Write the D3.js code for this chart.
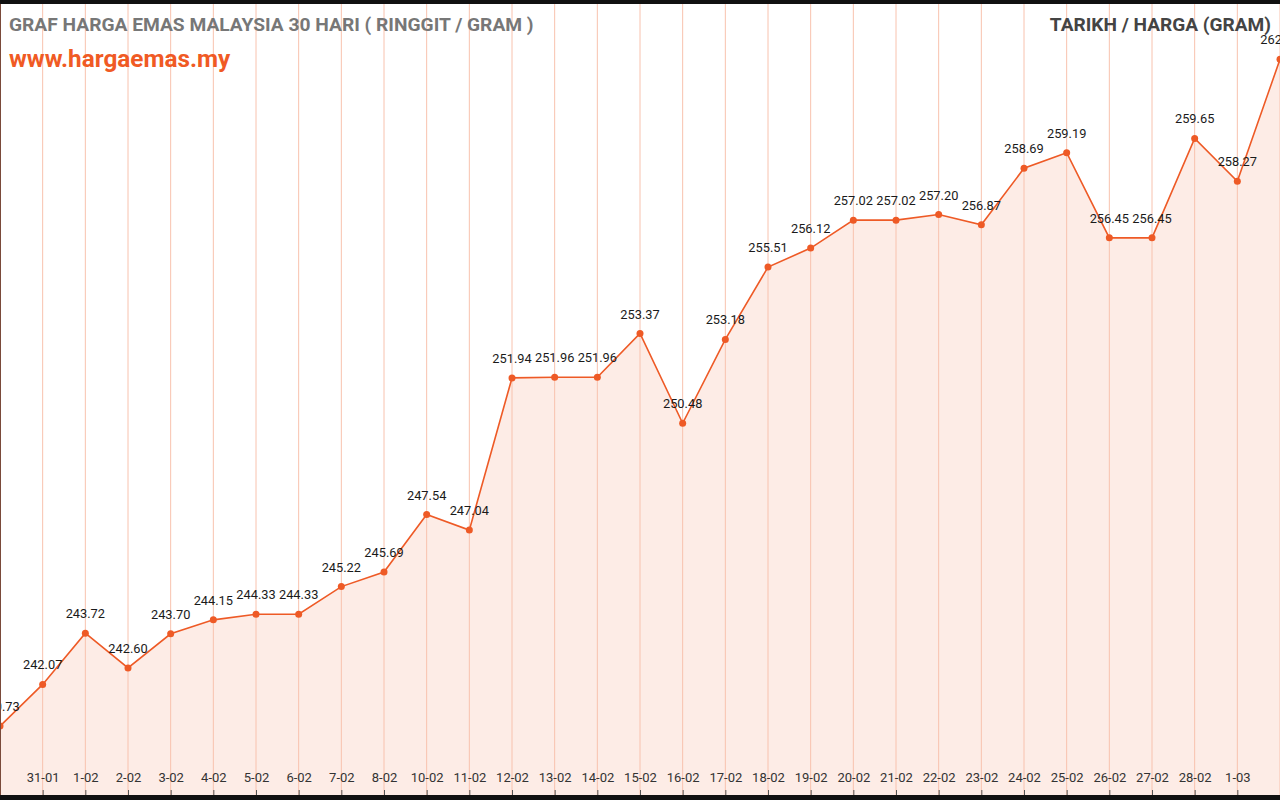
<!DOCTYPE html>
<html><head><meta charset="utf-8">
<script src="https://cdn.jsdelivr.net/npm/d3@7"></script>
<style>body{margin:0;background:#fff;overflow:hidden}text{font-family:Roboto,sans-serif}</style>
</head><body>
<script>
var dates = ['30-01','31-01','1-02','2-02','3-02','4-02','5-02','6-02','7-02','8-02','10-02','11-02','12-02','13-02','14-02','15-02','16-02','17-02','18-02','19-02','20-02','21-02','22-02','23-02','24-02','25-02','26-02','27-02','28-02','1-03','2-03'];
var prices = [240.73,242.07,243.72,242.60,243.70,244.15,244.33,244.33,245.22,245.69,247.54,247.04,251.94,251.96,251.96,253.37,250.48,253.18,255.51,256.12,257.02,257.02,257.20,256.87,258.69,259.19,256.45,256.45,259.65,258.27,262.20];

var width = 1280, height = 800;
var svg = d3.select('body').append('svg').attr('width', width).attr('height', height);

var x = d3.scalePoint().domain(dates).range([0, width]);
var y = d3.scaleLinear().domain([238.51, 263.98]).range([795, 4]);
var data = dates.map(function(d, i) { return {date: d, v: prices[i]}; });

svg.append('path').datum(data)
   .attr('fill', '#fdece6')
   .attr('d', d3.area().x(function(d) { return x(d.date); }).y0(795).y1(function(d) { return y(d.v); }));

svg.selectAll('.grid').data(dates).enter().append('line')
   .attr('x1', function(d) { return x(d); }).attr('x2', function(d) { return x(d); })
   .attr('y1', 4).attr('y2', 795)
   .attr('stroke', '#f8c2ae').attr('stroke-width', 1);

var axis = svg.append('g').attr('transform', 'translate(0,795)')
   .call(d3.axisBottom(x).tickValues(dates.slice(1, -1)).tickSize(-5).tickPadding(-22));
axis.select('.domain').remove();
axis.selectAll('line').attr('stroke', '#555');
axis.selectAll('text').attr('fill', '#333').style('font-size', '13px');

svg.append('path').datum(data)
   .attr('fill', 'none').attr('stroke', '#ee5a26').attr('stroke-width', 1.6)
   .attr('d', d3.line().x(function(d) { return x(d.date); }).y(function(d) { return y(d.v); }));

svg.selectAll('.pt').data(data).enter().append('circle')
   .attr('cx', function(d) { return x(d.date); }).attr('cy', function(d) { return y(d.v); })
   .attr('r', 3.5).attr('fill', '#ee5a26');

svg.selectAll('.lbl').data(data).enter().append('text')
   .attr('x', function(d) { return x(d.date); }).attr('y', function(d) { return y(d.v) - 15; })
   .attr('text-anchor', 'middle').attr('fill', '#1a1a1a').style('font-size', '12.8px')
   .text(function(d) { return d.v.toFixed(2); });

svg.append('rect').attr('x', 0).attr('y', 0).attr('width', width).attr('height', 4).attr('fill', '#111');
svg.append('rect').attr('x', 0).attr('y', 795).attr('width', width).attr('height', 5).attr('fill', '#111');
svg.append('line').attr('x1', 0.5).attr('x2', 0.5).attr('y1', 4).attr('y2', 795).attr('stroke', '#7a4a3a');

svg.append('text').attr('x', 9).attr('y', 31).attr('fill', '#777').style('font-size', '19.2px').style('font-weight', 'bold')
   .text('GRAF HARGA EMAS MALAYSIA 30 HARI ( RINGGIT / GRAM )');
svg.append('text').attr('x', 9).attr('y', 67).attr('fill', '#f05a24').style('font-size', '24.3px').style('font-weight', 'bold')
   .text('www.hargaemas.my');
svg.append('text').attr('x', 1271).attr('y', 31).attr('text-anchor', 'end').attr('fill', '#444').style('font-size', '19.1px').style('font-weight', 'bold')
   .text('TARIKH / HARGA (GRAM)');
</script>
</body></html>
